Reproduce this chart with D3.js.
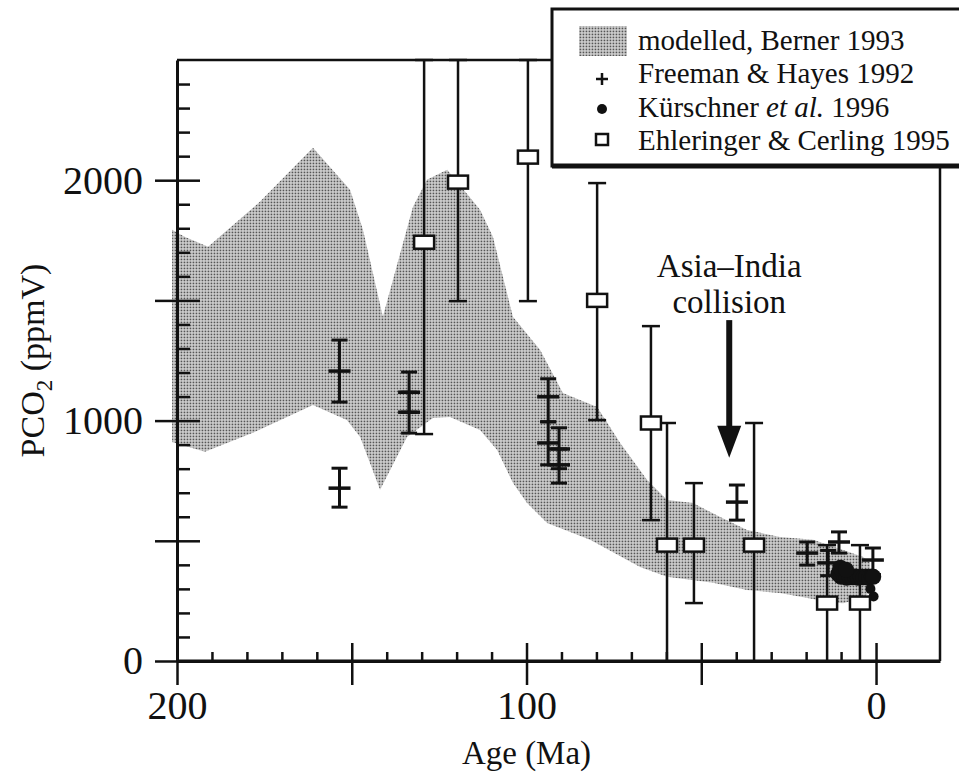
<!DOCTYPE html>
<html>
<head>
<meta charset="utf-8">
<script src="https://cdn.jsdelivr.net/npm/d3@7"></script>
<style>
  body { margin: 0; background: #fff; }
  svg { display: block; }
</style>
</head>
<body>
<svg id="chart" width="959" height="783"></svg>
<script>
// Berner (1993) model envelope, PCO2 (ppmV) against age (Ma)
const bandUpperAge = [201.4, 197.7, 191.1, 176.3, 161.1, 150.5, 146.8, 141.1, 132.5, 128.5, 122.7, 113.3, 109.6, 103.9, 96.1, 89.6, 79.8, 73.2, 65.5, 59.8, 52.4, 44.6, 36.9, 27.5, 18.0, 9.4, 3.7, 1.7];
const bandUpperVal = [1794, 1764, 1723, 1910, 2135, 1960, 1794, 1432, 1889, 2002, 2043, 1877, 1764, 1432, 1294, 1115, 1057, 907, 753, 670, 657, 599, 545, 516, 504, 462, 433, 410];
const bandLowerAge = [201.4, 192.0, 178.3, 161.1, 151.4, 147.6, 141.9, 134.2, 126.8, 121.9, 113.3, 108.4, 103.9, 99.9, 94.1, 81.8, 67.5, 59.8, 46.6, 36.9, 27.5, 18.0, 14.0, 9.4, 4.0, 1.7];
const bandLowerVal = [911, 870, 949, 1065, 1003, 932, 712, 932, 1011, 1015, 961, 878, 741, 658, 574, 504, 391, 350, 325, 295, 283, 258, 245, 240, 262, 285];

// Freeman & Hayes 1992: estimate with lower / upper error limits
const fhAge = [153.5, 153.5, 133.6, 133.6, 93.8, 93.8, 90.7, 90.7, 39.8, 19.7, 10.6, 13.7, 0.9];
const fhVal = [1206, 719, 1118, 1035, 1099, 907, 882, 816, 661, 449, 495, 408, 420];
const fhLow = [1077, 640, 1035, 948, 995, 816, 800, 740, 586, 399, 449, 355, 360];
const fhHigh = [1335, 802, 1202, 1118, 1174, 995, 970, 882, 732, 495, 537, 460, 470];

// Kürschner et al. 1996: stomatal estimates
const kuAge = [10.8, 10.0, 9.2, 8.4, 7.6, 6.8, 6.0, 5.2, 4.4, 3.6, 2.8, 2.0, 1.2, 0.8, 10.2, 8.6, 1.6, 0.7];
const kuVal = [362, 350, 354, 346, 352, 348, 352, 346, 350, 348, 350, 346, 352, 350, 388, 380, 300, 268];

// Ehleringer & Cerling 1995: estimate with lower / upper limits (2500 = runs off the top)
const ecAge = [129.3, 119.6, 99.6, 79.8, 64.4, 59.8, 52.1, 34.9, 14.0, 4.6];
const ecVal = [1742, 1992, 2096, 1500, 990, 482, 482, 482, 241, 241];
const ecLow = [944, 1497, 1497, 1002, 586, 0, 241, 0, 0, 0];
const ecHigh = [2500, 2500, 2500, 1988, 1393, 990, 740, 990, 482, 482];

// Axis ticks
const xMajorTicks = [200, 150, 100, 50, 0];
const xTickLabels = [200, 100, 0];
const yMajorTicks = [0, 500, 1000, 1500, 2000];
const yTickLabels = [0, 1000, 2000];

// Legend entries
const legendLabels = ["modelled, Berner 1993", "Freeman & Hayes 1992", "Kürschner et al. 1996", "Ehleringer & Cerling 1995"];

// Annotation: Asia–India collision
const collisionAge = 42;
const collisionArrowTop = 1418, collisionArrowTip = 845;

// pick a Times-like face if one is installed, otherwise a wider serif at a smaller size
function hasFont(name) {
  const c = document.createElement("canvas").getContext("2d");
  const probe = "mmmwwwlli 2000 Age";
  c.font = "40px monospace";
  const w0 = c.measureText(probe).width;
  c.font = `40px "${name}", monospace`;
  return Math.abs(c.measureText(probe).width - w0) > 0.5;
}
let serif = '"DejaVu Serif", serif', k = 0.84;
if (hasFont("Liberation Serif")) { serif = '"Liberation Serif", serif'; k = 1; }
else if (hasFont("Tinos")) { serif = '"Tinos", serif'; k = 1; }
else if (hasFont("Times New Roman")) { serif = '"Times New Roman", serif'; k = 1; }
const fpx = s => `${(s * k).toFixed(1)}px`;

const svg = d3.select("#chart");
const ink = "#111";

const x = d3.scaleLinear().domain([200, -18.3]).range([177, 940]);
const y = d3.scaleLinear().domain([0, 2500]).range([661, 60]);

// stippled fill for the model envelope
const defs = svg.append("defs");
const pat = defs.append("pattern").attr("id", "stipple")
  .attr("width", 3).attr("height", 3).attr("patternUnits", "userSpaceOnUse");
pat.append("rect").attr("width", 3).attr("height", 3).attr("fill", "#d6d6d6");
pat.append("rect").attr("x", 0.6).attr("y", 0.6).attr("width", 1.7).attr("height", 1.7).attr("fill", "#555");

// envelope polygon: upper edge left→right, lower edge right→left
const upper = bandUpperAge.map((a, i) => [a, bandUpperVal[i]]);
const lower = bandLowerAge.map((a, i) => [a, bandLowerVal[i]]).reverse();
svg.append("path")
  .attr("d", d3.line().x(d => x(d[0])).y(d => y(d[1]))(upper.concat(lower)) + "Z")
  .attr("fill", "url(#stipple)");

// frame: top and right edges
svg.append("line").attr("x1", x(200)).attr("x2", x(-18.3)).attr("y1", y(2500)).attr("y2", y(2500))
  .attr("stroke", ink).attr("stroke-width", 2.5);
svg.append("line").attr("x1", x(-18.3)).attr("x2", x(-18.3)).attr("y1", y(2500)).attr("y2", y(0))
  .attr("stroke", ink).attr("stroke-width", 2.5);

// y axis: major ticks cross the line, minor ticks point inward
svg.append("g").attr("transform", `translate(${x(200)},0)`)
  .call(d3.axisLeft(y).tickValues(yMajorTicks).tickSizeInner(22).tickSizeOuter(0).tickPadding(12)
    .tickFormat(d => yTickLabels.includes(d) ? d : ""));
svg.append("g").attr("transform", `translate(${x(200)},0)`)
  .call(d3.axisRight(y).tickValues(yMajorTicks).tickSize(23).tickFormat(""))
  .call(g => g.select(".domain").remove());
svg.append("g").attr("transform", `translate(${x(200)},0)`)
  .call(d3.axisRight(y).tickValues(d3.range(100, 2500, 100).filter(v => v % 500 !== 0)).tickSize(13).tickFormat(""))
  .call(g => g.select(".domain").remove());

// x axis
svg.append("g").attr("transform", `translate(0,${y(0)})`)
  .call(d3.axisBottom(x).tickValues(xMajorTicks).tickSizeInner(24).tickSizeOuter(0).tickPadding(6)
    .tickFormat(d => xTickLabels.includes(d) ? d : ""));
svg.append("g").attr("transform", `translate(0,${y(0)})`)
  .call(d3.axisTop(x).tickValues(xMajorTicks).tickSize(18).tickFormat(""))
  .call(g => g.select(".domain").remove());
svg.append("g").attr("transform", `translate(0,${y(0)})`)
  .call(d3.axisTop(x).tickValues(d3.range(10, 200, 10).filter(v => v % 50 !== 0)).tickSize(9).tickFormat(""))
  .call(g => g.select(".domain").remove());
// x axis line runs on to the right edge of the frame
svg.append("line").attr("x1", x(200)).attr("x2", x(-18.3)).attr("y1", y(0)).attr("y2", y(0))
  .attr("stroke", ink).attr("stroke-width", 3);

svg.selectAll(".domain").attr("stroke", ink).attr("stroke-width", 3);
svg.selectAll(".tick line").attr("stroke", ink).attr("stroke-width", 2.5);
svg.selectAll(".tick text").attr("font-family", null).attr("font-size", null)
  .style("font-family", serif).style("font-size", fpx(40)).attr("fill", ink);

// all free text in the serif face
const label = (sel) => sel.style("font-family", serif).attr("fill", ink);

// axis titles
label(svg.append("text")).attr("x", x(100)).attr("y", 764).attr("text-anchor", "middle")
  .style("font-size", fpx(33)).text("Age (Ma)");
const yt = label(svg.append("text")).attr("transform", `translate(44,${y(1250)}) rotate(-90)`)
  .attr("text-anchor", "middle").style("font-size", fpx(34));
yt.append("tspan").text("PCO");
yt.append("tspan").attr("dy", 8).style("font-size", fpx(23)).text("2");
yt.append("tspan").attr("dy", -8).text(" (ppmV)");

// Ehleringer & Cerling error bars
const ec = ecAge.map((a, i) => ({ a, v: ecVal[i], lo: ecLow[i], hi: ecHigh[i] }));
const ecG = svg.append("g").attr("stroke", ink).attr("stroke-width", 2.5);
ec.forEach(d => {
  ecG.append("line").attr("x1", x(d.a)).attr("x2", x(d.a)).attr("y1", y(d.lo)).attr("y2", y(d.hi));
  [d.lo, d.hi].forEach(v => {
    if (v > 0) ecG.append("line").attr("x1", x(d.a) - 9).attr("x2", x(d.a) + 9).attr("y1", y(v)).attr("y2", y(v));
  });
});

// Freeman & Hayes error bars with cross-ticks
const fh = fhAge.map((a, i) => ({ a, v: fhVal[i], lo: fhLow[i], hi: fhHigh[i] }));
const fhG = svg.append("g").attr("stroke", ink).attr("stroke-width", 3);
fh.forEach(d => {
  fhG.append("line").attr("x1", x(d.a)).attr("x2", x(d.a)).attr("y1", y(d.lo)).attr("y2", y(d.hi));
  [d.lo, d.hi].forEach(v => fhG.append("line").attr("x1", x(d.a) - 8).attr("x2", x(d.a) + 8).attr("y1", y(v)).attr("y2", y(v)));
  fhG.append("line").attr("x1", x(d.a) - 11).attr("x2", x(d.a) + 11).attr("y1", y(d.v)).attr("y2", y(d.v)).attr("stroke-width", 3.5);
});

// Kürschner et al. filled circles
svg.append("g").selectAll("circle").data(kuAge.map((a, i) => ({ a, v: kuVal[i] })))
  .join("circle").attr("cx", d => x(d.a)).attr("cy", d => y(d.v))
  .attr("r", d => d.v < 320 ? 5 : 8).attr("fill", ink);

// Ehleringer & Cerling open boxes drawn over the bars
svg.append("g").selectAll("rect").data(ec).join("rect")
  .attr("x", d => x(d.a) - 10).attr("y", d => y(d.v) - 6.5).attr("width", 20).attr("height", 13)
  .attr("fill", "#fff").attr("stroke", ink).attr("stroke-width", 2.5);

// Asia–India collision annotation
const ax = x(collisionAge);
label(svg.append("text")).attr("x", ax).attr("y", 277).attr("text-anchor", "middle").style("font-size", fpx(33)).text("Asia–India");
label(svg.append("text")).attr("x", ax).attr("y", 313).attr("text-anchor", "middle").style("font-size", fpx(33)).text("collision");
svg.append("line").attr("x1", ax).attr("x2", ax).attr("y1", y(collisionArrowTop)).attr("y2", y(collisionArrowTip) - 28)
  .attr("stroke", ink).attr("stroke-width", 6);
svg.append("path")
  .attr("d", `M${ax - 12},${y(collisionArrowTip) - 32} L${ax + 12},${y(collisionArrowTip) - 32} L${ax},${y(collisionArrowTip)} Z`)
  .attr("fill", ink);

// legend box
const lg = svg.append("g");
lg.append("rect").attr("x", 552).attr("y", 9).attr("width", 440).attr("height", 157)
  .attr("fill", "#fff").attr("stroke", ink).attr("stroke-width", 3);
lg.append("line").attr("x1", 552).attr("x2", 959).attr("y1", 166).attr("y2", 166).attr("stroke", ink).attr("stroke-width", 5);
const rowY = [50, 83, 117, 150];
const mx = 602;
lg.append("rect").attr("x", 579).attr("y", 26).attr("width", 48).attr("height", 30).attr("fill", "url(#stipple)");
lg.append("path").attr("d", `M${mx - 6},${rowY[1] - 4}H${mx + 6}M${mx},${rowY[1] - 10}V${rowY[1] + 2}`)
  .attr("stroke", ink).attr("stroke-width", 2.5);
lg.append("circle").attr("cx", mx).attr("cy", rowY[2] - 8).attr("r", 5).attr("fill", ink);
lg.append("rect").attr("x", mx - 6).attr("y", rowY[3] - 16).attr("width", 12).attr("height", 11)
  .attr("fill", "#fff").attr("stroke", ink).attr("stroke-width", 2.5);
legendLabels.forEach((t, i) => {
  const tx = label(lg.append("text")).attr("x", 638).attr("y", rowY[i]).style("font-size", fpx(29));
  if (t.includes("et al.")) {
    tx.append("tspan").text("Kürschner ");
    tx.append("tspan").style("font-style", "italic").text("et al.");
    tx.append("tspan").text(" 1996");
  } else {
    tx.text(t);
  }
});
</script>
</body>
</html>
